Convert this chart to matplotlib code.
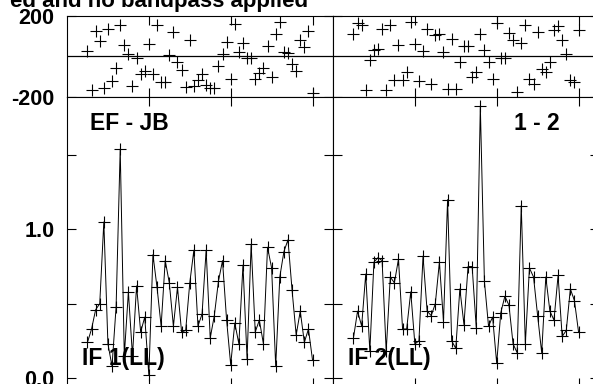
#!/usr/bin/env python3
"""
Two-baseline spectrum plot (phase on top, amplitude below), drawn side by side.
"""

from __future__ import annotations

from typing import List

import matplotlib

matplotlib.use("Agg")
import matplotlib.pyplot as plt  # noqa: E402

TITLE = "ed and no bandpass applied"

CHANNELS = list(range(5, 61))

LEFT_BASELINE = "EF - JB"
LEFT_IF = "IF 1(LL)"
LEFT_AMP = [0.24, 0.33, 0.46, 0.50, 1.05, 0.23, 0.08, 0.48, 1.54, 0.15,
            0.58, 0.15, 0.62, 0.31, 0.41, 0.02, 0.83, 0.61, 0.35, 0.79,
            0.64, 0.35, 0.61, 0.31, 0.32, 0.64, 0.86, 0.35, 0.43, 0.86,
            0.27, 0.42, 0.65, 0.79, 0.39, 0.09, 0.37, 0.23, 0.76, 0.13,
            0.90, 0.31, 0.39, 0.23, 0.88, 0.74, 0.08, 0.68, 0.85, 0.93,
            0.59, 0.29, 0.45, 0.24, 0.33, 0.12]
LEFT_PHASE = [25, -167, 122, 73, -155, 134, -122, -57, 155, 57,
              13, -144, -8, -85, -73, 62, -85, 155, -127, -127,
              8, 118, -29, -69, -150, 82, -144, -115, -85, -143,
              -155, -155, -49, 12, 72, -114, 160, 22, 63, -10,
              -10, -114, -80, -56, 49, -100, 107, 170, 22, 16,
              -40, -70, 82, 43, 125, -180]

RIGHT_BASELINE = "1 - 2"
RIGHT_IF = "IF 2(LL)"
RIGHT_AMP = [0.27, 0.45, 0.35, 0.70, 0.18, 0.78, 0.81, 0.79, 0.18, 0.68,
             0.64, 0.80, 0.33, 0.33, 0.58, 0.23, 0.25, 0.82, 0.45, 0.42,
             0.50, 0.78, 0.38, 1.20, 0.25, 0.20, 0.60, 0.36, 0.75, 0.75,
             0.34, 1.83, 0.65, 0.35, 0.41, 0.10, 0.44, 0.55, 0.49, 0.23,
             0.17, 1.16, 0.23, 0.74, 0.68, 0.42, 0.17, 0.68, 0.45, 0.39,
             0.69, 0.28, 0.32, 0.60, 0.52, 0.31]
RIGHT_PHASE = [108, 164, 153, -164, -16, 33, 38, 136, -167, 152,
               -115, 54, -118, -77, 169, 62, -121, 26, 136, -138,
               103, 108, 21, -162, 87, -162, -28, 49, 49, -102,
               -77, 108, 30, -28, -110, 161, -7, -11, 115, 79,
               -176, 66, 153, -110, -134, 120, -61, -77, -28, 128,
               148, 82, 13, -118, -126, 128]

W, H = 593, 384
FONT = ["Liberation Sans", "DejaVu Sans"]


def style_axes(ax, show_ylabels: bool, labels: List[str]):
    ax.set_xlim(0, 65)
    ax.set_xticks([20, 40, 60])
    ax.tick_params(direction="in", top=True, right=True, length=6.5, width=0.8,
                   labelbottom=False, labelleft=show_ylabels, pad=9,
                   labelsize=15.5)
    if show_ylabels:
        ax.set_yticklabels(labels, fontweight="bold")
    for sp in ax.spines.values():
        sp.set_linewidth(0.8)


def draw_panel(fig, left_px: float, amp, phase, baseline: str, if_label: str,
               show_ylabels: bool, base_x: float, base_ha: str):
    ax_ph = fig.add_axes([left_px / W, 1 - 97 / H, 266 / W, 81.5 / H])
    ax_amp = fig.add_axes([left_px / W, 1 - 387 / H, 266 / W, 290 / H])

    ax_ph.axhline(0, color="black", lw=0.9)
    ax_ph.plot(CHANNELS, phase, ls="none", marker="+", ms=9, mew=0.8, color="black")
    ax_ph.set_ylim(-200, 200)
    ax_ph.set_yticks([-200, 200])
    style_axes(ax_ph, show_ylabels, ["-200", "200"])

    ax_amp.plot(CHANNELS, amp, "-", marker="+", ms=9, mew=0.8, lw=0.7, color="black")
    ax_amp.set_ylim(-0.06, 1.89)
    ax_amp.set_yticks([0, 0.5, 1.0, 1.5])
    style_axes(ax_amp, show_ylabels, ["0.0", "", "1.0", ""])

    ax_amp.text(base_x, 0.886, baseline, transform=ax_amp.transAxes, ha=base_ha,
                va="baseline", fontsize=16.5, fontweight="bold")
    ax_amp.text(0.056, 0.076, if_label, transform=ax_amp.transAxes, ha="left",
                va="baseline", fontsize=16.5, fontweight="bold")


def main() -> int:
    plt.rcParams["font.family"] = FONT
    fig = plt.figure(figsize=(W / 100, H / 100), dpi=100)

    draw_panel(fig, 67, LEFT_AMP, LEFT_PHASE, LEFT_BASELINE, LEFT_IF, True, 0.086, "left")
    draw_panel(fig, 333, RIGHT_AMP, RIGHT_PHASE, RIGHT_BASELINE, RIGHT_IF, False, 0.853, "right")

    fig.text(308 / W, 1 - 7 / H, TITLE, ha="right", va="baseline",
             fontsize=16, fontweight="bold")

    fig.savefig("out.png", dpi=100)
    plt.close(fig)
    return 0


if __name__ == "__main__":
    raise SystemExit(main())
